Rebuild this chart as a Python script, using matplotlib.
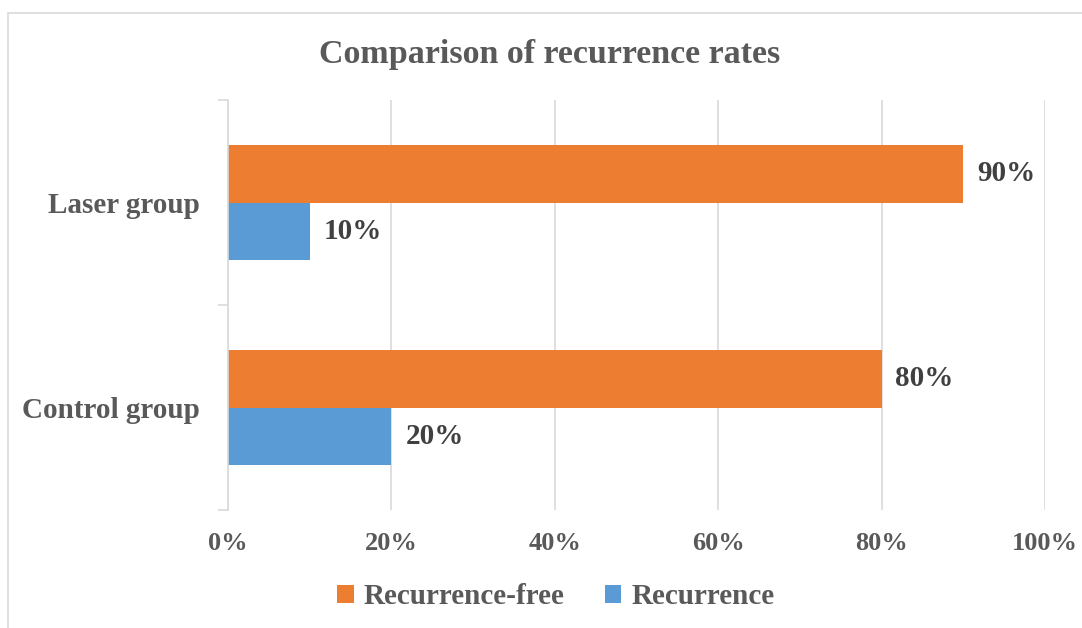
import numpy as np
import matplotlib
matplotlib.use("Agg")
import matplotlib.pyplot as plt
from matplotlib.patches import Rectangle
from matplotlib.ticker import PercentFormatter

grupos = ["Control group", "Laser group"]
recidiva = [20, 10]
sem_recidiva = [80, 90]
series = ["Recurrence-free", "Recurrence"]
ticks_x = [0, 20, 40, 60, 80, 100]

cinza = "#595959"
laranja = "#ED7D31"
azul = "#5B9BD5"

plt.rcParams["font.family"] = ["Liberation Serif", "DejaVu Serif"]
plt.rcParams["font.weight"] = "bold"

fig = plt.figure(figsize=(10.82, 6.28), dpi=100)
fig.patches.append(Rectangle((8 / 1082, -0.01), 1.0, 1 - 13 / 628 + 0.01,
                             transform=fig.transFigure, fill=False,
                             edgecolor="#D9D9D9", linewidth=1.2))
ax = fig.add_axes([228 / 1082, 1 - 510 / 628, 817 / 1082, 410 / 628])

y = np.arange(len(grupos))
h = 0.28
b1 = ax.barh(y + h / 2, sem_recidiva, height=h, color=laranja, label=series[0])
b2 = ax.barh(y - h / 2, recidiva, height=h, color=azul, label=series[1])

for barras in (b1, b2):
    for b in barras:
        ax.annotate(f"{b.get_width():.0f}%", (b.get_width(), b.get_y() + b.get_height() / 2),
                    xytext=(10, 0), textcoords="offset points", va="center", ha="left",
                    fontsize=21, fontweight="bold", color="#404040")

ax.set_xlim(0, 100)
ax.set_ylim(-0.5, 1.5)
ax.set_xticks(ticks_x)
ax.xaxis.set_major_formatter(PercentFormatter(decimals=0))
ax.set_yticks(y)
ax.set_yticklabels(grupos)
ax.set_yticks([-0.5, 0.5, 1.5], minor=True)
ax.tick_params(axis="y", which="major", length=0, pad=20, labelsize=21, labelcolor=cinza)
ax.tick_params(axis="y", which="minor", length=7, color="#D9D9D9", width=1.2)
ax.tick_params(axis="x", length=0, pad=16, labelsize=19, labelcolor=cinza)
ax.grid(axis="x", color="#D9D9D9", linewidth=1.2)
ax.set_axisbelow(True)
for s in ["top", "right", "bottom"]:
    ax.spines[s].set_visible(False)
ax.spines["left"].set_color("#D9D9D9")
ax.spines["left"].set_linewidth(1.2)

fig.text(0.508, 1 - 55 / 628, "Comparison of recurrence rates", ha="center", va="center",
         fontsize=24.5, fontweight="bold", color=cinza)

fig.legend(handles=[b1, b2], labels=series, loc="center", bbox_to_anchor=(0.514, 1 - 597 / 628),
           ncol=2, frameon=False, fontsize=21, handlelength=0.55, handleheight=0.55,
           handletextpad=0.35, columnspacing=1.4, labelcolor=cinza)

fig.savefig("out.png", dpi=100)
